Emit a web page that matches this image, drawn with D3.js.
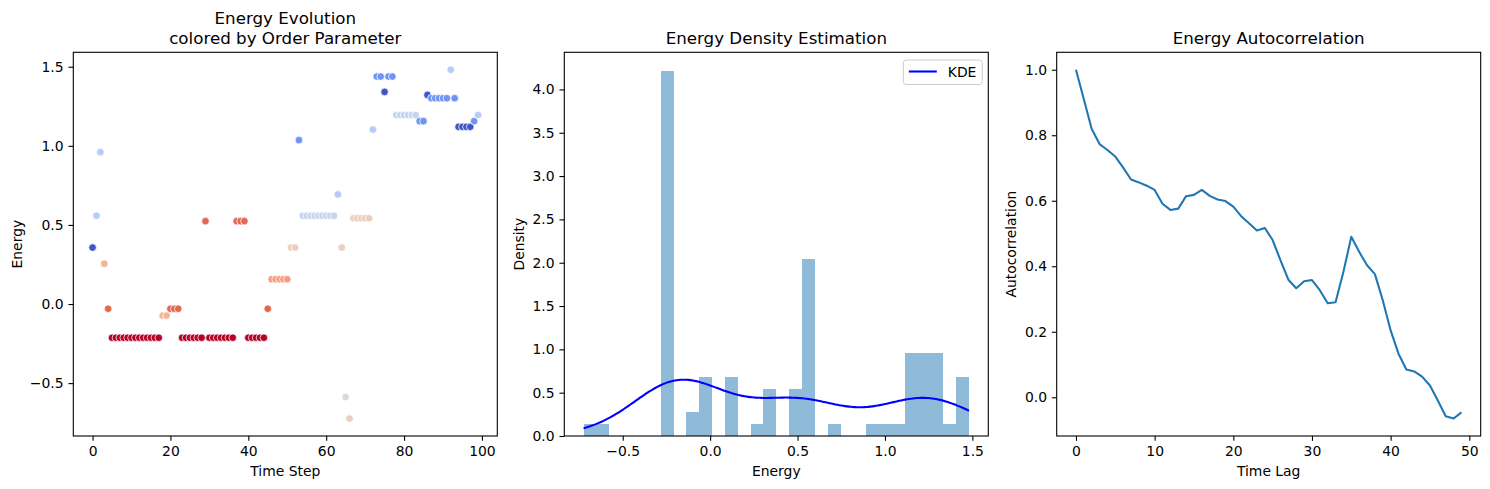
<!DOCTYPE html>
<html>
<head>
<meta charset="utf-8">
<script src="https://cdn.jsdelivr.net/npm/d3@7"></script>
<style>
  body { margin: 0; background: #fff; }
  text { font-family: "DejaVu Sans", sans-serif; fill: #000; }
</style>
</head>
<body>
<script>
// Energy per time step (index = time step)
const energy = [
  0.357, 0.558, 0.96, 0.255, -0.03, -0.213, -0.213, -0.213, -0.213, -0.213,
  -0.213, -0.213, -0.213, -0.213, -0.213, -0.213, -0.213, -0.213, -0.073, -0.073,
  -0.03, -0.03, -0.03, -0.213, -0.213, -0.213, -0.213, -0.213, -0.213, 0.524,
  -0.213, -0.213, -0.213, -0.213, -0.213, -0.213, -0.213, 0.524, 0.524, 0.524,
  -0.213, -0.213, -0.213, -0.213, -0.213, -0.03, 0.157, 0.157, 0.157, 0.157,
  0.157, 0.357, 0.357, 1.036, 0.558, 0.558, 0.558, 0.558, 0.558, 0.558,
  0.558, 0.558, 0.558, 0.693, 0.357, -0.588, -0.724, 0.542, 0.542, 0.542,
  0.542, 0.542, 1.103, 1.438, 1.438, 1.341, 1.438, 1.438, 1.195, 1.195,
  1.195, 1.195, 1.195, 1.195, 1.156, 1.156, 1.322, 1.301, 1.301, 1.301,
  1.301, 1.301, 1.481, 1.301, 1.12, 1.12, 1.12, 1.12, 1.156, 1.195
];

// Order parameter per time step (hue, 0 = cool, 1 = warm)
const orderParam = [
  0.02, 0.36, 0.36, 0.68, 0.86, 1, 1, 1, 1, 1,
  1, 1, 1, 1, 1, 1, 1, 1, 0.67, 0.67,
  0.86, 0.86, 0.86, 1, 1, 1, 1, 1, 1, 0.86,
  1, 1, 1, 1, 1, 1, 1, 0.86, 0.86, 0.86,
  1, 1, 1, 1, 1, 0.86, 0.74, 0.74, 0.74, 0.74,
  0.74, 0.58, 0.58, 0.17, 0.42, 0.42, 0.42, 0.42, 0.42, 0.42,
  0.42, 0.42, 0.42, 0.36, 0.58, 0.48, 0.58, 0.58, 0.58, 0.58,
  0.58, 0.58, 0.36, 0.17, 0.17, 0.02, 0.17, 0.17, 0.42, 0.42,
  0.42, 0.42, 0.42, 0.42, 0.17, 0.17, 0.02, 0.17, 0.17, 0.17,
  0.17, 0.17, 0.36, 0.17, 0.02, 0.02, 0.02, 0.02, 0.17, 0.36
];

// Autocorrelation for lags 0..49
const autocorr = [
  1.0, 0.91, 0.819, 0.773, 0.755, 0.735, 0.701, 0.665, 0.656, 0.646,
  0.633, 0.591, 0.572, 0.576, 0.614, 0.618, 0.633, 0.615, 0.604, 0.599,
  0.582, 0.553, 0.531, 0.509, 0.517, 0.48, 0.418, 0.359, 0.333, 0.354,
  0.358, 0.327, 0.287, 0.29, 0.383, 0.49, 0.444, 0.403, 0.376, 0.296,
  0.204, 0.133, 0.085, 0.079, 0.063, 0.036, -0.01, -0.058, -0.065, -0.046
];

const nBins = 30;

// tick values
const ticksTimeStep = [0, 20, 40, 60, 80, 100];
const ticksEnergyY = [-0.5, 0.0, 0.5, 1.0, 1.5];
const ticksEnergyX = [-0.5, 0.0, 0.5, 1.0, 1.5];
const ticksDensity = [0.0, 0.5, 1.0, 1.5, 2.0, 2.5, 3.0, 3.5, 4.0];
const ticksLag = [0, 10, 20, 30, 40, 50];
const ticksAuto = [0.0, 0.2, 0.4, 0.6, 0.8, 1.0];

// coolwarm colormap
const coolwarm = d3.piecewise(d3.interpolateRgb, [
  "#3b4cc0", "#6282ea", "#8db0fe", "#b8d0f9", "#dddddd",
  "#f5c4ac", "#f49a7b", "#de614d", "#b40426"
]);

const W = 1490, H = 489;
const plotTop = 52.3, plotBottom = 436;
const panelW = 424;
const panels = [73.3, 564.3, 1056.7];
const tickLen = 4.86, tickPad = 4.86;

const svg = d3.select("body").append("svg")
  .attr("width", W).attr("height", H);

// matplotlib-like 5% margins
function pad(ext) {
  const s = ext[1] - ext[0];
  return [ext[0] - 0.05 * s, ext[1] + 0.05 * s];
}

function styleAxis(g) {
  g.select(".domain").remove();
  g.selectAll(".tick line").attr("stroke", "#000").attr("stroke-width", 1.1);
  g.selectAll(".tick text").attr("font-size", 13.9).attr("font-family", "DejaVu Sans").attr("fill", "#000");
}

function makePanel(x0, xDomain, yDomain, xTicks, yTicks, xFmt, yFmt) {
  const g = svg.append("g");
  const x = d3.scaleLinear().domain(xDomain).range([x0, x0 + panelW]);
  const y = d3.scaleLinear().domain(yDomain).range([plotBottom, plotTop]);
  g.append("g")
    .attr("transform", "translate(0," + plotBottom + ")")
    .call(d3.axisBottom(x).tickValues(xTicks).tickFormat(xFmt)
      .tickSize(tickLen).tickPadding(tickPad))
    .call(styleAxis);
  g.append("g")
    .attr("transform", "translate(" + x0 + ",0)")
    .call(d3.axisLeft(y).tickValues(yTicks).tickFormat(yFmt)
      .tickSize(tickLen).tickPadding(tickPad))
    .call(styleAxis);
  return { g, x, y, x0 };
}

function frame(p) {
  p.g.append("rect")
    .attr("x", p.x0).attr("y", plotTop)
    .attr("width", panelW).attr("height", plotBottom - plotTop)
    .attr("fill", "none").attr("stroke", "#000").attr("stroke-width", 1.1);
}

function labels(p, title, xl, yl, yOff) {
  const cx = p.x0 + panelW / 2;
  if (Array.isArray(title)) {
    title.forEach((t, i) => {
      p.g.append("text").attr("x", cx).attr("y", 24 + i * 20.2)
        .attr("text-anchor", "middle").attr("font-size", 16.7).text(t);
    });
  } else {
    p.g.append("text").attr("x", cx).attr("y", 44.3)
      .attr("text-anchor", "middle").attr("font-size", 16.7).text(title);
  }
  p.g.append("text").attr("x", cx).attr("y", plotBottom + 40)
    .attr("text-anchor", "middle").attr("font-size", 13.9).text(xl);
  p.g.append("text")
    .attr("transform", "translate(" + (p.x0 - yOff) + "," + ((plotTop + plotBottom) / 2) + ") rotate(-90)")
    .attr("text-anchor", "middle").attr("font-size", 13.9).text(yl);
}

const f1 = d3.format(".1f");
const f0 = d3.format("d");

// ---------- Panel 1: energy evolution scatter ----------
const steps = energy.map((d, i) => i);
const p1 = makePanel(panels[0], pad(d3.extent(steps)), pad(d3.extent(energy)),
  ticksTimeStep, ticksEnergyY, f0, f1);
p1.g.selectAll("circle.pt")
  .data(energy)
  .enter()
  .append("circle")
  .attr("class", "pt")
  .attr("cx", (d, i) => p1.x(i))
  .attr("cy", d => p1.y(d))
  .attr("r", 3.8)
  .attr("fill", (d, i) => coolwarm(orderParam[i]))
  .attr("stroke", "#fff")
  .attr("stroke-width", 0.75);
frame(p1);
labels(p1, ["Energy Evolution", "colored by Order Parameter"], "Time Step", "Energy", 51);

// ---------- Panel 2: histogram + KDE ----------
const eMin = d3.min(energy), eMax = d3.max(energy);
const binW = (eMax - eMin) / nBins;
const counts = new Array(nBins).fill(0);
energy.forEach(v => {
  counts[Math.min(nBins - 1, Math.floor((v - eMin) / binW))] += 1;
});
const density = counts.map(c => c / (energy.length * binW));
const bins = density.map((d, i) => ({ x0: eMin + i * binW, x1: eMin + (i + 1) * binW, d }));

// gaussian KDE, Scott's rule
const bw = d3.deviation(energy) * Math.pow(energy.length, -1 / 5);
const kdeX = d3.range(200).map(i => eMin + i * (eMax - eMin) / 199);
const kde = kdeX.map(x => [x, d3.mean(energy, v => Math.exp(-0.5 * ((x - v) / bw) ** 2)) / (bw * Math.sqrt(2 * Math.PI))]);

const p2 = makePanel(panels[1], pad([eMin, eMax]), [0, d3.max(density) * 1.05],
  ticksEnergyX, ticksDensity, f1, f1);
p2.g.selectAll("rect.bar")
  .data(bins.filter(b => b.d > 0))
  .enter()
  .append("rect")
  .attr("class", "bar")
  .attr("x", b => p2.x(b.x0))
  .attr("width", b => p2.x(b.x1) - p2.x(b.x0))
  .attr("y", b => p2.y(b.d))
  .attr("height", b => plotBottom - p2.y(b.d))
  .attr("fill", "#1f77b4")
  .attr("fill-opacity", 0.5)
  .attr("shape-rendering", "crispEdges");
p2.g.append("path")
  .datum(kde)
  .attr("fill", "none")
  .attr("stroke", "#0000ff")
  .attr("stroke-width", 2.08)
  .attr("d", d3.line().x(d => p2.x(d[0])).y(d => p2.y(d[1])));
frame(p2);
labels(p2, "Energy Density Estimation", "Energy", "Density", 40.5);

// legend
const lg = p2.g.append("g").attr("transform", "translate(" + (p2.x0 + panelW - 85) + "," + (plotTop + 7.7) + ")");
lg.append("rect").attr("width", 79).attr("height", 24.5).attr("rx", 3)
  .attr("fill", "#fff").attr("fill-opacity", 0.8)
  .attr("stroke", "#cccccc").attr("stroke-width", 1);
lg.append("line").attr("x1", 5.5).attr("x2", 33.5).attr("y1", 11.5).attr("y2", 11.5)
  .attr("stroke", "#0000ff").attr("stroke-width", 2.08);
lg.append("text").attr("x", 44.5).attr("y", 16.5).attr("font-size", 13.9).text("KDE");

// ---------- Panel 3: autocorrelation ----------
const lags = autocorr.map((d, i) => i);
const p3 = makePanel(panels[2], pad(d3.extent(lags)), pad(d3.extent(autocorr)),
  ticksLag, ticksAuto, f0, f1);
p3.g.append("path")
  .datum(autocorr)
  .attr("fill", "none")
  .attr("stroke", "#1f77b4")
  .attr("stroke-width", 2.08)
  .attr("stroke-linejoin", "round")
  .attr("d", d3.line().x((d, i) => p3.x(i)).y(d => p3.y(d)));
frame(p3);
labels(p3, "Energy Autocorrelation", "Time Lag", "Autocorrelation", 41);
</script>
</body>
</html>
